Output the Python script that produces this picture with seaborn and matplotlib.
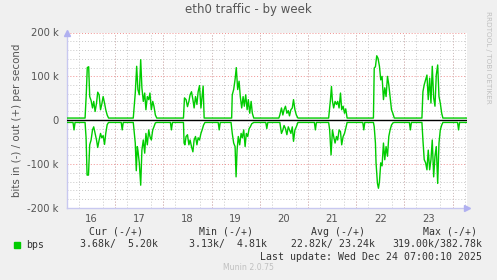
import numpy as np
import pandas as pd
import matplotlib
matplotlib.use("Agg")
import matplotlib.pyplot as plt
from matplotlib.ticker import MultipleLocator, FixedLocator
import seaborn as sns

# ---- data (hours since Dec 16 00:00, values in kbit/s) ----
out_hours = [0, 9, 9.6, 10.1, 10.8, 11.3, 12, 12.7, 13.3, 14, 14.7, 15.3, 16, 16.7, 17.3, 18, 18.7, 19.3, 20, 20.7,
             33, 34, 34.7, 35.3, 36, 36.7, 37.3, 38, 38.7, 39.3, 40, 40.7, 41.3, 42, 42.7, 43.3, 44, 44.7,
             58, 58.5, 59.3, 60, 60.7, 61.3, 62, 62.7, 63.3, 64, 64.7, 65.3, 66, 66.7, 67.3, 67.8, 68.3,
             82, 82.3, 83, 83.7, 84.3, 85, 85.7, 86.3, 87, 87.7, 88.3, 89, 89.7, 90.3, 91, 91.7, 92.3, 93,
             105.5, 106, 106.8, 107.5, 108.1, 108.8, 109.5, 110.2, 110.8, 111.5, 112.2, 112.8, 113.5, 114.2, 115,
             130.3, 131.2, 131.7, 132.2, 132.8, 133.5, 134.2, 134.8, 135.5, 136.2, 136.8, 137.5, 138.2, 138.8, 139.5,
             152.6, 153, 153.6, 154.25, 154.9, 155.6, 156.25, 156.9, 157.6, 158.25, 158.9, 159.6, 160.25, 160.9, 161.6, 162.25, 163,
             176.75, 177.25, 177.9, 178.6, 179.25, 179.9, 180.6, 181.25, 181.9, 182.6, 183.25, 183.9, 184.6, 185.25, 185.9, 186.6, 187.2, 199.2]
out_kbps = [5, 5, 60, 120, 122, 54, 45, 28, 43, 20, 39, 64, 58, 24, 36, 54, 39, 24, 12, 5,
            5, 62, 123, 70, 58, 138, 74, 43, 62, 24, 54, 47, 62, 24, 43, 32, 12, 5,
            5, 51, 47, 31, 43, 58, 65, 47, 28, 54, 36, 65, 79, 28, 54, 78, 5,
            5, 58, 70, 93, 120, 70, 89, 54, 28, 54, 32, 58, 24, 47, 16, 43, 16, 5,
            5, 12, 28, 12, 24, 32, 16, 22, 10, 24, 28, 47, 24, 12, 5,
            5, 47, 77, 43, 28, 43, 36, 43, 28, 62, 24, 32, 16, 26, 5,
            5, 119, 122, 147, 141, 123, 92, 100, 47, 74, 54, 100, 81, 54, 24, 16, 5,
            5, 65, 81, 92, 103, 47, 96, 39, 123, 51, 32, 103, 126, 54, 39, 16, 5, 5]

in_hours = [0, 3, 3.5, 4, 9, 9.5, 10, 10.7, 11.3, 12, 12.7, 13.3, 14, 14.7, 15.3, 16, 16.7, 17.3, 18, 18.7, 19.3, 20, 20.7,
            27, 27.5, 28,
            33, 34, 34.5, 35, 35.3, 36, 36.7, 37.3, 38, 38.7, 39.3, 40, 40.7, 41.3, 42, 42.7, 43.3, 44, 44.7,
            51.5, 52, 52.5,
            58, 58.3, 58.7, 59.3, 60, 60.7, 61.3, 62, 62.7, 63.3, 64, 64.7, 65.3, 66, 66.7, 67.3, 68, 68.7,
            75.3, 75.8, 76.3,
            81.7, 82.3, 83, 83.7, 84.2, 84.7, 85.3, 86, 86.7, 87.3, 88, 88.7, 89.3, 90, 90.7, 91.3, 92, 93,
            99, 99.5, 100,
            106, 106.3, 106.8, 107.5, 108.1, 108.8, 109.5, 110.2, 110.8, 111.5, 112.2, 112.8, 113.5, 114.2, 115,
            123.2, 123.7, 124.2,
            130.3, 130.8, 131.5, 132.2, 132.8, 133.5, 134.2, 134.8, 135.5, 136.2, 136.8, 137.5, 138.2, 138.8, 139.5,
            147.3, 147.8, 148.3,
            152.6, 153, 153.6, 153.9, 154.6, 155.1, 155.6, 156.25, 156.9, 157.6, 158.25, 158.9, 159.6, 160.25, 160.9, 161.6, 162.3, 163,
            170.5, 171, 171.5,
            176.75, 177.25, 177.9, 178.6, 179.25, 179.9, 180.6, 181.25, 181.9, 182.6, 183.25, 183.9, 184.6, 185.25, 185.9, 186.6, 187.2,
            194.5, 195, 195.5, 199.2]
in_kbps = [-5, -5, -22, -5, -5, -40, -125, -125, -56, -45, -22, -15, -30, -45, -62, -45, -30, -40, -35, -55, -30, -10, -5,
           -5, -22, -5,
           -5, -52, -115, -60, -68, -97, -148, -68, -45, -75, -30, -56, -22, -37, -45, -22, -15, -6, -5,
           -5, -22, -5,
           -5, -52, -56, -37, -33, -56, -45, -60, -72, -45, -37, -56, -40, -45, -30, -22, -11, -5,
           -5, -22, -5,
           -5, -30, -52, -60, -129, -68, -37, -56, -30, -40, -22, -60, -30, -37, -19, -15, -8, -5,
           -5, -19, -5,
           -5, -15, -30, -22, -12, -19, -33, -15, -22, -30, -15, -48, -22, -15, -5,
           -5, -22, -5,
           -5, -22, -79, -22, -37, -52, -37, -45, -22, -26, -56, -37, -30, -19, -5,
           -5, -22, -5,
           -5, -15, -52, -97, -144, -155, -140, -97, -104, -52, -90, -60, -82, -37, -22, -11, -6, -5,
           -5, -22, -5,
           -5, -45, -90, -97, -113, -68, -113, -90, -45, -129, -82, -60, -144, -52, -22, -11, -5,
           -5, -22, -5, -5]

day_labels = ["16", "17", "18", "19", "20", "21", "22", "23"]
ytick_vals = [-200, -100, 0, 100, 200]
ytick_labels = ["-200 k", "-100 k", "0", "100 k", "200 k"]
legend_headers = ["Cur (-/+)", "Min (-/+)", "Avg (-/+)", "Max (-/+)"]
legend_values = ["3.68k/  5.20k", "3.13k/  4.81k", "22.82k/ 23.24k", "319.00k/382.78k"]

df = pd.concat([
    pd.DataFrame({"hour": out_hours, "kbps": out_kbps, "dir": "out"}),
    pd.DataFrame({"hour": in_hours, "kbps": in_kbps, "dir": "in"}),
])

W, H = 497, 280
BG = "#F0F0F0"
GREEN = "#00CC00"
TXT = "#555555"

fig = plt.figure(figsize=(W / 100, H / 100), dpi=100, facecolor=BG)
ax = fig.add_axes([67 / W, (H - 208) / H, 400 / W, 175.5 / H])
ax.set_facecolor("white")

xmax = 199.2
ax.set_xlim(0, xmax)
ax.set_ylim(-200, 200)

# grids
ax.xaxis.set_minor_locator(MultipleLocator(6))
ax.yaxis.set_minor_locator(MultipleLocator(20))
ax.grid(which="minor", color="#C8C8C8", linestyle=(0, (1, 2)), linewidth=0.7)
for d in np.arange(24, xmax, 24):
    ax.axvline(d, color="#F09090", linestyle=(0, (1, 2)), linewidth=0.7, zorder=1)
for v in ytick_vals:
    ax.axhline(v, color="#F09090", linestyle=(0, (1, 2)), linewidth=0.7, zorder=1)

sns.lineplot(data=df, x="hour", y="kbps", units="dir", estimator=None,
             color=GREEN, linewidth=1.0, ax=ax, legend=False, zorder=3,
             sort=False)
ax.axhline(0, color="black", linewidth=1.0, zorder=4)

ax.set_xticks([12 + 24 * i for i in range(len(day_labels))])
ax.set_xticklabels(day_labels)
ax.set_yticks(ytick_vals)
ax.set_yticklabels(ytick_labels)
ax.tick_params(axis="both", which="both", length=0, colors=TXT, labelsize=7.2)
ax.tick_params(axis="x", pad=4)
ax.tick_params(axis="y", pad=6)
ax.set_xlabel("")
ax.set_ylabel("bits in (-) / out (+) per second", color=TXT, fontsize=7.4, labelpad=4)

for s in ["top", "right"]:
    ax.spines[s].set_visible(False)
for s in ["left", "bottom"]:
    ax.spines[s].set_color("#C8C8F0")
    ax.spines[s].set_linewidth(1.0)
ax.plot([0], [200], marker="^", color="#B0B0F0", markersize=4, clip_on=False, zorder=5)
ax.plot([xmax], [-200], marker=">", color="#B0B0F0", markersize=4, clip_on=False, zorder=5)


def ftext(x, y, s, **kw):
    fig.text(x / W, 1 - y / H, s, **kw)


ftext(248, 10, "eth0 traffic - by week", ha="center", va="center", fontsize=8.5, color=TXT)
ftext(488, 57, "RRDTOOL / TOBI OETIKER", ha="center", va="center", rotation=-90,
      fontsize=5.2, color="#C0C0C0")

mono = "DejaVu Sans Mono"
fig.patches.append(plt.Rectangle((14 / W, 1 - 248 / H), 6 / W, 6 / H,
                                 transform=fig.transFigure, color=GREEN, figure=fig))
ftext(26, 244.5, "bps", ha="left", va="center", fontsize=7.1, family=mono, color="#333333")
header_x = [116, 226, 338, 450]
for hx, h in zip(header_x, legend_headers):
    ftext(hx, 232, h, ha="center", va="center", fontsize=7.1, family=mono, color="#333333")
val_right = [158, 267, 375, 482]
for vx, v in zip(val_right, legend_values):
    ftext(vx, 244.5, v, ha="right", va="center", fontsize=7.1, family=mono, color="#333333")
ftext(482, 257, "Last update: Wed Dec 24 07:00:10 2025", ha="right", va="center",
      fontsize=7.1, family=mono, color="#333333")
ftext(248, 268, "Munin 2.0.75", ha="center", va="center", fontsize=5.6, color="#C0C0C0")

fig.savefig("out.png", dpi=100, facecolor=BG)
